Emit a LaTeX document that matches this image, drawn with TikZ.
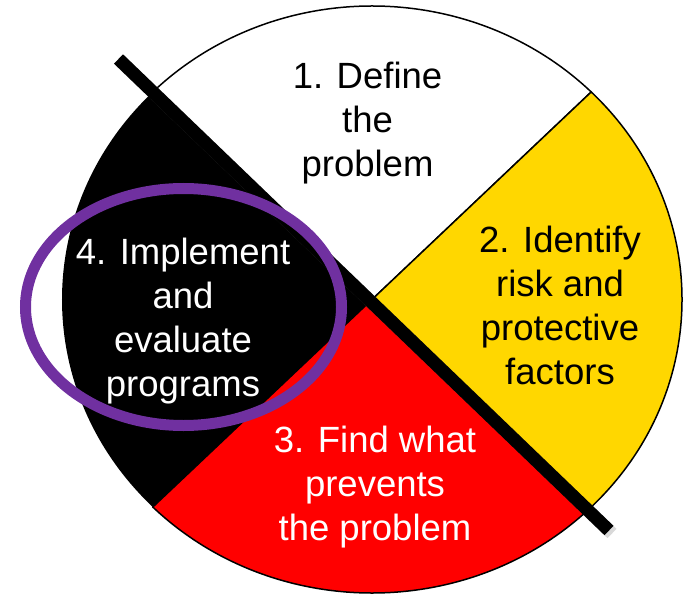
\documentclass[tikz,border=0pt]{standalone}
\usepackage{fontspec}
\setmainfont{Liberation Sans}
\usetikzlibrary{shadows}
\definecolor{wheelyellow}{RGB}{255,215,0}
\definecolor{wheelred}{RGB}{255,0,0}
\definecolor{ringpurple}{RGB}{112,48,160}
\begin{document}
\begin{tikzpicture}[x=1pt,y=1pt,
  wedge/.style={draw=black,line width=1.5pt,line join=round},
  label/.style={align=center,inner sep=0pt,anchor=base,
    font=\fontsize{36.5}{44}\selectfont},
]
\useasboundingbox (0,0) rectangle (684,595);
\coordinate (C) at (372,295.5);
% quadrants
\fill[black] (C) -- +(135:310pt and 293.5pt)
  arc[start angle=135,end angle=225,x radius=310pt,y radius=293.5pt] -- cycle;
\path[wedge,fill=white] (C) -- +(45:310pt and 293.5pt)
  arc[start angle=45,end angle=135,x radius=310pt,y radius=293.5pt] -- cycle;
\path[wedge,fill=wheelyellow] (C) -- +(-45:310pt and 293.5pt)
  arc[start angle=-45,end angle=45,x radius=310pt,y radius=293.5pt] -- cycle;
\path[wedge,fill=wheelred] (C) -- +(225:310pt and 293.5pt)
  arc[start angle=225,end angle=315,x radius=310pt,y radius=293.5pt] -- cycle;
% bar
\node[fill=black,minimum width=680.4pt,minimum height=13pt,inner sep=0pt,
  rotate=-43.87,drop shadow={opacity=0.3,shadow xshift=3pt,shadow yshift=-3pt}]
  (bar) at (363.75,300.25) {};
% purple ring
\draw[ringpurple,line width=11pt] (183.5,288) ellipse[x radius=158pt,y radius=118.5pt];
% labels (anchor = baseline of last line)
\node[label,text=black] (l1) at (367.5,418) {1. Define\\the\\problem};
\node[label,text=black] (l2) at (560,211) {2. Identify\\risk and\\protective\\factors};
\node[label,text=white] (l3) at (375,55) {3. Find what\\prevents\\the problem};
\node[label,text=white] (l4) at (183,199) {4. Implement\\and\\evaluate\\programs};
\end{tikzpicture}
\end{document}
